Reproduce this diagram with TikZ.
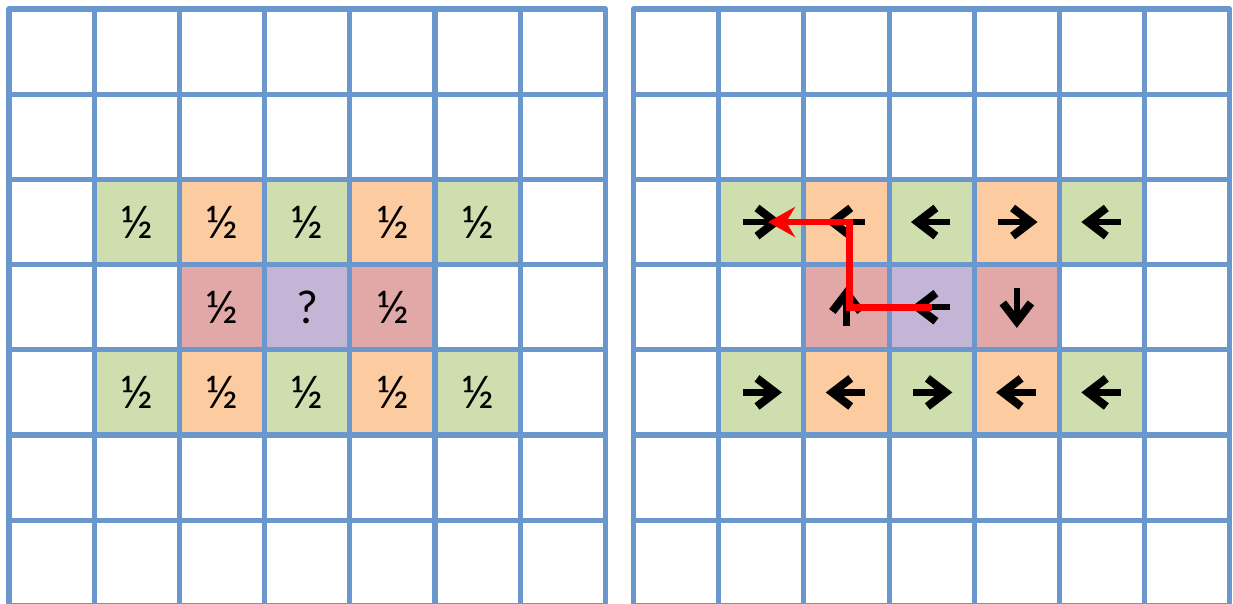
\documentclass[tikz,border=0pt]{standalone}
\usepackage{fontspec}
\setmainfont{Lato}
\usetikzlibrary{arrows.meta}
\definecolor{gridblue}{HTML}{6A98CE}
\definecolor{cgreen}{HTML}{CFDEAF}
\definecolor{corange}{HTML}{FCCBA0}
\definecolor{cred}{HTML}{E2A7A7}
\definecolor{cpurple}{HTML}{C4B5D6}
\tikzset{
  cell/.style={minimum size=1cm, inner sep=0pt, outer sep=0pt, font=\fontsize{15}{17}\selectfont},
  gridline/.style={draw=gridblue, line width=0.06cm, line join=round},
  pathline/.style={draw=red, line width=0.08cm, line join=miter},
  goarrow/.pic={
    \draw[line width=0.075cm] (-0.22,0) -- (0.15,0);
    \draw[line width=0.095cm, line join=miter] (-0.05,0.165) -- (0.165,0) -- (-0.05,-0.165);
  }
}

\begin{document}
\begin{tikzpicture}
\useasboundingbox (0,0) rectangle (14.472,7.089);
\foreach \r/\c/\col/\txt in {2/1/cgreen/½, 2/2/corange/½, 2/3/cgreen/½, 2/4/corange/½, 2/5/cgreen/½,
    3/2/cred/½, 3/3/cpurple/?, 3/4/cred/½,
    4/1/cgreen/½, 4/2/corange/½, 4/3/cgreen/½, 4/4/corange/½, 4/5/cgreen/½}
  \node[cell, fill=\col] (L-\r-\c) at (0.606+\c, 6.483-\r) {\txt};
\foreach \r/\c/\col/\ang in {2/1/cgreen/0, 2/2/corange/180, 2/3/cgreen/180, 2/4/corange/0, 2/5/cgreen/180,
    3/2/cred/90, 3/3/cpurple/180, 3/4/cred/270,
    4/1/cgreen/0, 4/2/corange/180, 4/3/cgreen/0, 4/4/corange/180, 4/5/cgreen/180} {
  \node[cell, fill=\col] (R-\r-\c) at (7.935+\c, 6.483-\r) {};
  \pic[rotate=\ang] at (R-\r-\c) {goarrow};
}
\foreach \x in {0.106, 7.435} {
  \foreach \i in {1,...,6} {
    \draw[gridline] (\x+\i, -0.017) -- (\x+\i, 6.983);
    \draw[gridline] (\x, -0.017+\i) -- (\x+7, -0.017+\i);
  }
  \draw[gridline] (\x, -0.017) rectangle (\x+7, 6.983);
}
\draw[pathline, -{Stealth[length=9pt, width=10pt, inset=3pt]}] (R-3-3.center) -- ([xshift=0.04cm]R-3-2.center)
  -- ([xshift=0.04cm]R-2-2.center) -- ([xshift=0.08cm]R-2-1.center);
\end{tikzpicture}
\end{document}
